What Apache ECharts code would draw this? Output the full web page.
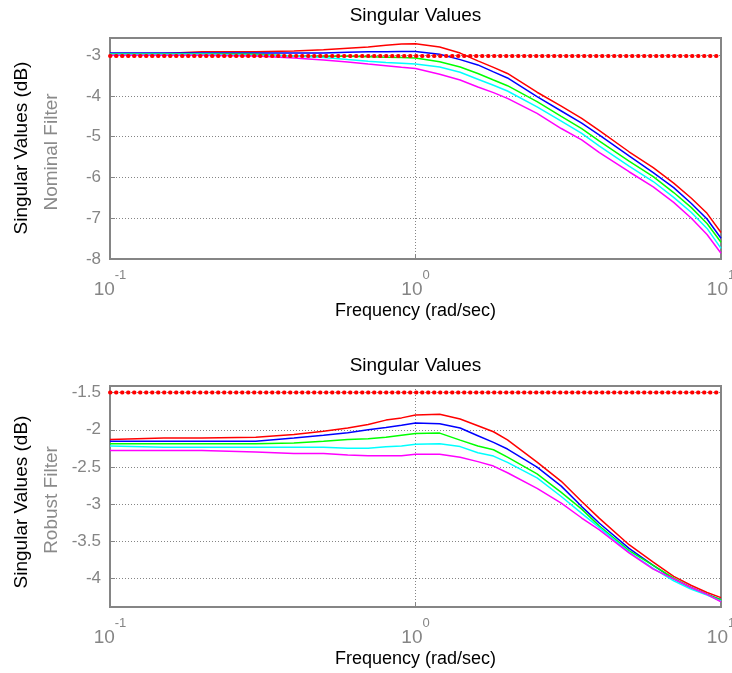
<!DOCTYPE html>
<html>
<head>
<meta charset="utf-8">
<script src="https://cdn.jsdelivr.net/npm/echarts@6/dist/echarts.min.js"></script>
<style>
  html, body { margin: 0; padding: 0; background: #fff; }
  #main { width: 732px; height: 673px; }
</style>
</head>
<body>
<div id="main"></div>
<script>
// frequency samples (rad/sec)
var freq = [0.1, 0.15, 0.2, 0.3, 0.4, 0.5, 0.6, 0.7, 0.8, 0.9, 1, 1.2, 1.4, 1.6, 1.8, 2, 2.5, 3, 3.5, 4, 5, 6, 7, 8, 9, 10];

// nominal filter, singular values (dB)
var nomRed = [-2.96, -2.96, -2.92, -2.92, -2.90, -2.87, -2.83, -2.80, -2.76, -2.73, -2.72, -2.80, -2.95, -3.14, -3.30, -3.45, -3.91, -4.25, -4.55, -4.85, -5.37, -5.76, -6.14, -6.51, -6.88, -7.35];
var nomBlue = [-2.95, -2.95, -2.95, -2.95, -2.95, -2.95, -2.93, -2.92, -2.92, -2.91, -2.91, -2.98, -3.11, -3.24, -3.41, -3.56, -4.02, -4.37, -4.67, -4.96, -5.47, -5.88, -6.25, -6.64, -7.02, -7.49];
var nomGreen = [-2.97, -2.97, -2.97, -2.98, -3.02, -3.03, -3.03, -3.04, -3.05, -3.06, -3.07, -3.16, -3.29, -3.45, -3.61, -3.75, -4.14, -4.50, -4.80, -5.11, -5.60, -5.98, -6.37, -6.74, -7.13, -7.59];
var nomCyan = [-2.98, -2.98, -2.98, -3.00, -3.02, -3.06, -3.11, -3.15, -3.18, -3.20, -3.22, -3.29, -3.42, -3.59, -3.74, -3.88, -4.27, -4.62, -4.92, -5.23, -5.72, -6.10, -6.49, -6.86, -7.25, -7.74];
var nomMagenta = [-3.00, -3.00, -3.00, -3.02, -3.07, -3.12, -3.17, -3.22, -3.26, -3.30, -3.33, -3.47, -3.61, -3.78, -3.92, -4.06, -4.43, -4.80, -5.08, -5.39, -5.86, -6.23, -6.61, -7.00, -7.40, -7.86];
var nomBound = -3.02;

// robust filter, singular values (dB)
var robRed = [-2.13, -2.11, -2.11, -2.10, -2.065, -2.02, -1.975, -1.93, -1.87, -1.84, -1.80, -1.79, -1.855, -1.945, -2.027, -2.136, -2.436, -2.695, -2.968, -3.195, -3.55, -3.786, -3.977, -4.10, -4.195, -4.264];
var robBlue = [-2.155, -2.155, -2.155, -2.155, -2.11, -2.074, -2.04, -2.0, -1.97, -1.94, -1.91, -1.918, -1.977, -2.08, -2.17, -2.26, -2.505, -2.76, -3.036, -3.26, -3.60, -3.83, -4.01, -4.13, -4.22, -4.29];
var robGreen = [-2.19, -2.19, -2.19, -2.19, -2.18, -2.155, -2.13, -2.12, -2.10, -2.074, -2.05, -2.045, -2.14, -2.22, -2.27, -2.37, -2.595, -2.845, -3.07, -3.30, -3.63, -3.83, -4.00, -4.13, -4.22, -4.295];
var robCyan = [-2.22, -2.235, -2.235, -2.235, -2.235, -2.235, -2.25, -2.25, -2.23, -2.22, -2.195, -2.19, -2.227, -2.31, -2.355, -2.44, -2.65, -2.90, -3.127, -3.32, -3.65, -3.87, -4.036, -4.15, -4.23, -4.31];
var robMagenta = [-2.28, -2.28, -2.28, -2.30, -2.32, -2.32, -2.34, -2.35, -2.35, -2.35, -2.33, -2.33, -2.37, -2.43, -2.49, -2.58, -2.79, -2.99, -3.19, -3.35, -3.66, -3.88, -4.01, -4.13, -4.22, -4.32];
var robBound = -1.497;

var FONT = 'Liberation Sans, Arial, sans-serif';
var GRAY = '#858585';
var colors = ['#ff0000', '#0000ff', '#00ff00', '#00ffff', '#ff00ff'];

function pairs (ys) {
  return freq.map(function (f, i) { return [f, ys[i]] })
}

function xAxisFor (idx) {
  return {
    type: 'log',
    logBase: 10,
    gridIndex: idx,
    min: 0.1,
    max: 10,
    name: 'Frequency (rad/sec)',
    nameLocation: 'middle',
    nameGap: 43,
    nameTextStyle: { color: '#000', fontSize: 18, fontFamily: FONT },
    axisLine: { show: false },
    axisTick: { inside: true, length: 5, lineStyle: { color: GRAY } },
    minorTick: { show: false },
    splitLine: { show: true, lineStyle: { color: GRAY, type: [1, 2], width: 1 } },
    axisLabel: {
      margin: 10,
      formatter: function (v) {
        return '{b|10}{s|' + Math.round(Math.log10(v)) + '}'
      },
      rich: {
        b: { fontSize: 19, fontFamily: FONT, color: GRAY, padding: [11, 0, 0, 0] },
        s: { fontSize: 13, fontFamily: FONT, color: GRAY, verticalAlign: 'top' }
      }
    }
  }
}

function yAxisFor (idx, extra) {
  var ax = {
    type: 'value',
    gridIndex: idx,
    axisLine: { show: false },
    axisTick: { inside: true, length: 5, lineStyle: { color: GRAY } },
    splitLine: { show: true, lineStyle: { color: GRAY, type: [1, 2], width: 1 } },
    axisLabel: { color: GRAY, fontSize: 17, fontFamily: FONT, margin: 9, showMaxLabel: false }
  }
  for (var k in extra) ax[k] = extra[k]
  return ax
}

function curves (idx, sets, bound) {
  var out = sets.map(function (ys, i) {
    return {
      type: 'line',
      xAxisIndex: idx,
      yAxisIndex: idx,
      data: pairs(ys),
      showSymbol: false,
      silent: true,
      animation: false,
      lineStyle: { color: colors[i], width: 1.5 }
    }
  })
  // red dotted bound
  out.push({
    type: 'line',
    xAxisIndex: idx,
    yAxisIndex: idx,
    data: [[0.1, bound], [10, bound]],
    showSymbol: false,
    silent: true,
    animation: false,
    z: 5,
    lineStyle: { color: '#ff0000', width: 4, type: [0.5, 5.5], cap: 'round' }
  })
  return out
}

function vText (x, y, text, color) {
  return {
    type: 'text',
    x: x,
    y: y,
    rotation: Math.PI / 2,
    style: { text: text, fill: color, fontSize: 19, fontFamily: FONT, align: 'center', verticalAlign: 'middle' }
  }
}

function hText (x, y, text) {
  return {
    type: 'text',
    x: x,
    y: y,
    style: { text: text, fill: '#000', fontSize: 19, fontFamily: FONT, align: 'center', verticalAlign: 'middle' }
  }
}

var option = {
  backgroundColor: '#fff',
  animation: false,
  grid: [
    { left: 110, top: 38, width: 611, height: 221, show: true, borderColor: GRAY, borderWidth: 2, outerBoundsMode: 'none' },
    { left: 110, top: 386, width: 611, height: 221, show: true, borderColor: GRAY, borderWidth: 2, outerBoundsMode: 'none' }
  ],
  xAxis: [xAxisFor(0), xAxisFor(1)],
  yAxis: [
    yAxisFor(0, { min: -8, max: -2.58, interval: 1 }),
    yAxisFor(1, { min: -4.39, max: -1.41, splitNumber: 5, axisLabel: { color: GRAY, fontSize: 17, fontFamily: FONT, margin: 9, showMaxLabel: false, showMinLabel: false } })
  ],
  series: curves(0, [nomRed, nomBlue, nomGreen, nomCyan, nomMagenta], nomBound)
    .concat(curves(1, [robRed, robBlue, robGreen, robCyan, robMagenta], robBound)),
  graphic: [
    hText(415.5, 16, 'Singular Values'),
    hText(415.5, 366, 'Singular Values'),
    vText(22, 148, 'Singular Values (dB)', '#000'),
    vText(52, 152, 'Nominal Filter', '#8a8a8a'),
    vText(22, 502, 'Singular Values (dB)', '#000'),
    vText(52, 500, 'Robust Filter', '#8a8a8a')
  ]
}

var myChart = echarts.init(document.getElementById('main'))
myChart.setOption(option)
</script>
</body>
</html>
